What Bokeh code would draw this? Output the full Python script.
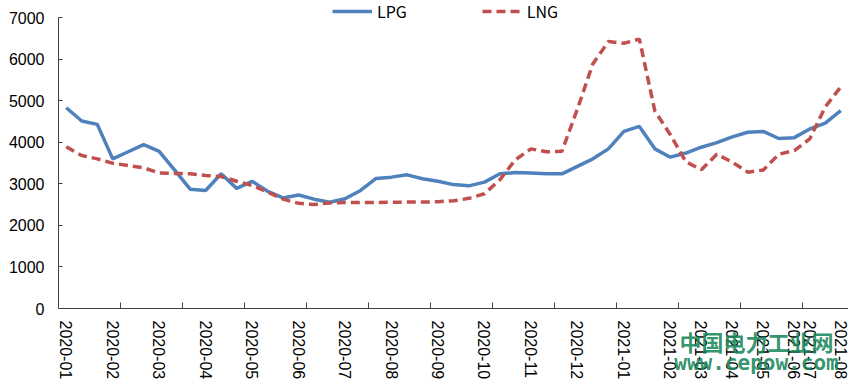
import math
from bokeh.plotting import figure
from bokeh.models import Legend, LegendItem, FixedTicker, Range1d, Label
from bokeh.embed import file_html
from bokeh.resources import INLINE

# ---- data ----
lpg = [4830, 4510, 4430, 3600, 3770, 3940, 3780, 3330, 2870, 2840,
       3240, 2890, 3060, 2820, 2660, 2730, 2630, 2555, 2640, 2840,
       3130, 3160, 3215, 3120, 3060, 2980, 2950, 3040, 3240, 3270,
       3260, 3240, 3240, 3420, 3600, 3840, 4260, 4380, 3840, 3640,
       3740, 3880, 3990, 4130, 4240, 4260, 4090, 4110, 4320, 4460, 4760]
lng = [3890, 3680, 3600, 3495, 3440, 3385, 3260, 3250, 3240, 3200,
       3175, 3060, 2960, 2800, 2630, 2530, 2500, 2540, 2550, 2550,
       2550, 2555, 2560, 2560, 2570, 2590, 2650, 2760, 3100, 3580,
       3840, 3770, 3780, 4800, 5890, 6420, 6380, 6480, 4750, 4180,
       3530, 3340, 3710, 3520, 3280, 3330, 3710, 3800, 4080, 4850, 5330]
xs = list(range(len(lpg)))

label_pos = [0, 3, 6, 9, 12, 15, 18, 21, 24, 27, 30, 33, 36, 39, 41, 43, 45, 47, 48, 50]
label_txt = ["2020-01", "2020-02", "2020-03", "2020-04", "2020-05", "2020-06",
             "2020-07", "2020-08", "2020-09", "2020-10", "2020-11", "2020-12",
             "2021-01", "2021-02", "2021-03", "2021-04", "2021-05", "2021-06",
             "2021-07", "2021-08"]
tick_marks = [3.5, 7.5, 11.5, 15.5, 19.5, 23.5, 27.5, 31.5, 35.5, 39.5, 43.5, 47.5]
y_ticks = [0, 1000, 2000, 3000, 4000, 5000, 6000, 7000]
y_min, y_max = 0, 7000

FONT = "Liberation Sans"

# layout (pixels): plot area from y=17 (7000) to y=308 (0) in a 382 px canvas
W, H = 848, 382
top_px, zero_px = 17, 308
per_px = (y_max - y_min) / (zero_px - top_px)
y_lo = y_min - (H - zero_px) * per_px
y_hi = y_max + top_px * per_px

p = figure(width=W, height=H, output_backend="svg", toolbar_location=None,
           x_range=Range1d(-0.5, 50.5), y_range=Range1d(y_lo, y_hi),
           min_border_left=58, min_border_right=0, min_border_top=0,
           min_border_bottom=0)
p.xgrid.visible = False
p.ygrid.visible = False
p.outline_line_color = None
p.background_fill_color = "white"
p.border_fill_color = "white"

r1 = p.line(xs, lpg, line_color="#4F81BD", line_width=3.5)
r2 = p.line(xs, lng, line_color="#C0504D", line_width=3.5, line_dash="9 5")

# x axis (drawn at y = 0 inside the canvas)
xa = p.xaxis[0]
xa.fixed_location = 0
xa.ticker = FixedTicker(ticks=label_pos, minor_ticks=tick_marks)
xa.major_label_overrides = {k: v for k, v in zip(label_pos, label_txt)}
xa.major_label_orientation = -math.pi / 2
xa.major_tick_line_color = None
xa.major_tick_in = 0
xa.major_tick_out = 0
xa.minor_tick_in = 6
xa.minor_tick_out = 0
xa.minor_tick_line_color = "#404040"
xa.major_label_standoff = 12
xa.major_label_text_font = FONT
xa.major_label_text_font_size = "16px"
xa.major_label_text_color = "#000000"
xa.axis_line_color = "#404040"

# y axis
ya = p.yaxis[0]
ya.bounds = (y_min, y_max)
ya.ticker = FixedTicker(ticks=y_ticks)
ya.minor_tick_line_color = None
ya.major_tick_in = 4
ya.major_tick_out = 0
ya.major_tick_line_color = "#404040"
ya.axis_line_color = "#404040"
ya.major_label_standoff = 14
ya.major_label_text_font = FONT
ya.major_label_text_font_size = "16px"
ya.major_label_text_color = "#000000"

legend = Legend(items=[LegendItem(label="LPG", renderers=[r1]),
                       LegendItem(label="LNG", renderers=[r2])],
                location=(274, 359), orientation="horizontal",
                glyph_width=40, glyph_height=16, label_standoff=5,
                spacing=75, padding=0, margin=0,
                border_line_color=None, background_fill_alpha=0,
                label_text_font="Noto Sans CJK SC", label_text_font_size="16px",
                label_text_color="#000000")
p.add_layout(legend)

# source watermark (drawn over the axis labels)
p.add_layout(Label(x=698, y=42, x_units="screen", y_units="screen", level="overlay",
                   text="中国电力工业网", text_align="center", text_baseline="middle",
                   text_font="Noto Sans CJK SC", text_font_style="bold",
                   text_font_size="22px", text_color="#1a875c", text_alpha=0.9))
p.add_layout(Label(x=698, y=20, x_units="screen", y_units="screen", level="overlay",
                   text="www.cepow.com", text_align="center", text_baseline="middle",
                   text_font="DejaVu Sans Mono", text_font_style="bold",
                   text_font_size="21px", text_color="#1a875c", text_alpha=0.9))

open("out.html", "w").write(file_html(p, INLINE))
